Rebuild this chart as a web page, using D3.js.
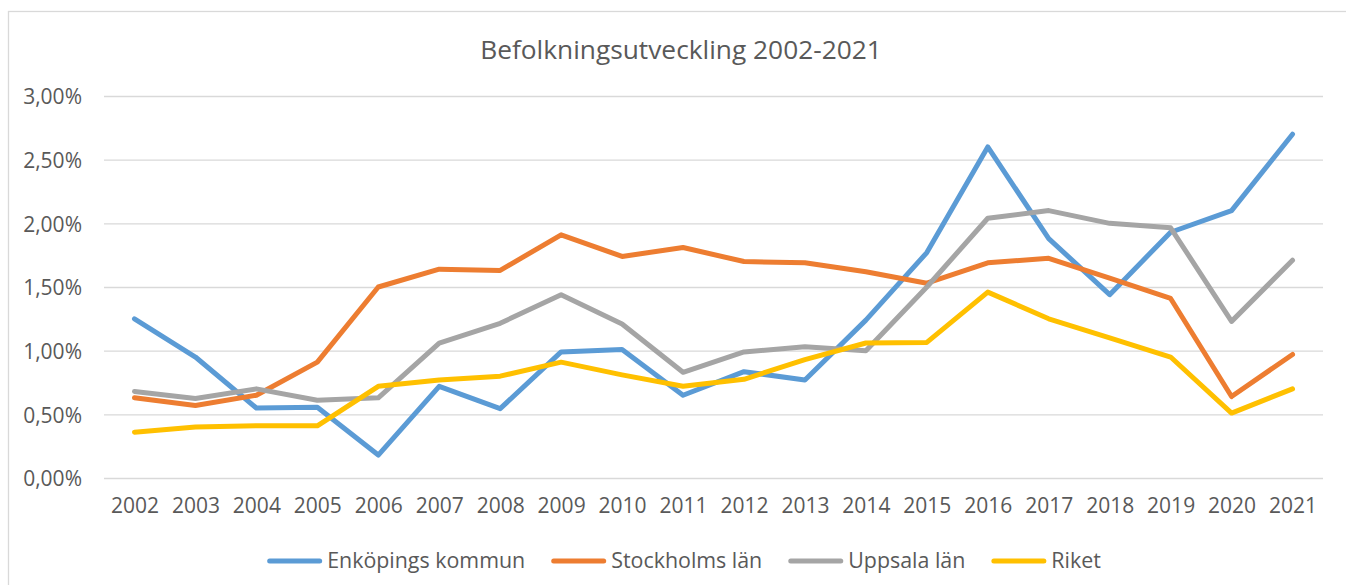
<!DOCTYPE html>
<html>
<head>
<meta charset="utf-8">
<script src="https://cdn.jsdelivr.net/npm/d3@7"></script>
<style>
  html, body { margin: 0; padding: 0; background: #fff; }
  svg { display: block; font-family: "Open Sans", "Noto Sans", sans-serif; }
</style>
</head>
<body>
<svg id="chart" width="1346" height="585"></svg>
<script>
const title = "Befolkningsutveckling 2002-2021";
const years = ["2002","2003","2004","2005","2006","2007","2008","2009","2010","2011","2012","2013","2014","2015","2016","2017","2018","2019","2020","2021"];
const yTicks = [0, 0.005, 0.01, 0.015, 0.02, 0.025, 0.03];
const seriesNames = ["Enköpings kommun", "Stockholms län", "Uppsala län", "Riket"];
const enkoping  = [1.25, 0.95, 0.55, 0.555, 0.18, 0.72, 0.545, 0.99, 1.01, 0.65, 0.835, 0.77, 1.24, 1.77, 2.60, 1.88, 1.44, 1.93, 2.10, 2.70];
const stockholm = [0.63, 0.57, 0.65, 0.91, 1.50, 1.64, 1.63, 1.91, 1.74, 1.81, 1.70, 1.69, 1.62, 1.53, 1.69, 1.725, 1.57, 1.41, 0.64, 0.97];
const uppsala   = [0.68, 0.625, 0.70, 0.61, 0.63, 1.06, 1.215, 1.44, 1.21, 0.83, 0.99, 1.03, 1.00, 1.50, 2.04, 2.10, 2.00, 1.965, 1.23, 1.71];
const riket     = [0.36, 0.40, 0.41, 0.41, 0.72, 0.77, 0.80, 0.91, 0.81, 0.72, 0.775, 0.93, 1.06, 1.065, 1.46, 1.25, 1.10, 0.95, 0.51, 0.70];
const colors = ["#5b9bd5", "#ed7d31", "#a5a5a5", "#ffc000"];

const seriesValues = [enkoping, stockholm, uppsala, riket];
const svg = d3.select("#chart");
const textColor = "#595959";
const plot = { left: 104, right: 1323, top: 96, bottom: 478 };

// outer chart border
svg.append("rect")
  .attr("x", 8.5).attr("y", 11.5)
  .attr("width", 1342).attr("height", 600)
  .attr("fill", "#fff").attr("stroke", "#d9d9d9").attr("stroke-width", 1.3);

const x = d3.scalePoint().domain(years).range([plot.left, plot.right]).padding(0.5);
const y = d3.scaleLinear().domain([0, 0.03]).range([plot.bottom, plot.top]);

const locale = d3.formatLocale({ decimal: ",", thousands: " ", grouping: [3], currency: ["", " kr"] });
const pct = locale.format(".2%");

// title
svg.append("text")
  .attr("x", 681).attr("y", 59)
  .attr("text-anchor", "middle")
  .attr("fill", textColor)
  .attr("font-size", 26.3)
  .text(title);

// y axis with gridlines
const yAxis = d3.axisLeft(y)
  .tickValues(yTicks)
  .tickSize(-(plot.right - plot.left))
  .tickPadding(22)
  .tickFormat(pct);

const gy = svg.append("g")
  .attr("transform", `translate(${plot.left},0)`)
  .call(yAxis);
gy.select(".domain").remove();
gy.selectAll(".tick line").attr("stroke", "#d9d9d9").attr("stroke-width", 1.4);
gy.selectAll(".tick text")
  .attr("fill", textColor)
  .attr("font-size", 21)
  .attr("font-family", "Open Sans, Noto Sans, sans-serif")
  .attr("dy", "0.38em");

// x axis labels
const xAxis = d3.axisBottom(x).tickSize(0).tickPadding(20);
const gx = svg.append("g")
  .attr("transform", `translate(0,${plot.bottom})`)
  .call(xAxis);
gx.select(".domain").remove();
gx.selectAll(".tick text")
  .attr("fill", textColor)
  .attr("font-size", 21)
  .attr("font-family", "Open Sans, Noto Sans, sans-serif");

// lines
const line = d3.line()
  .x((d, i) => x(years[i]))
  .y(d => y(d / 100));

seriesValues.forEach((vals, si) => {
  svg.append("path")
    .datum(vals)
    .attr("d", line)
    .attr("fill", "none")
    .attr("stroke", colors[si])
    .attr("stroke-width", 5)
    .attr("stroke-linejoin", "round")
    .attr("stroke-linecap", "round");
});

// legend
const legend = svg.append("g");
const lineLen = 55, lineGap = 5, itemGap = 26, legendY = 561;
let cursor = 0;
seriesNames.forEach((name, i) => {
  const g = legend.append("g").attr("transform", `translate(${cursor},0)`);
  g.append("line")
    .attr("x1", 2.5).attr("x2", lineLen - 2.5)
    .attr("y1", legendY).attr("y2", legendY)
    .attr("stroke", colors[i]).attr("stroke-width", 5)
    .attr("stroke-linecap", "round");
  const t = g.append("text")
    .attr("x", lineLen + lineGap).attr("y", legendY + 7)
    .attr("fill", textColor)
    .attr("font-size", 21.4)
    .text(name);
  cursor += lineLen + lineGap + t.node().getComputedTextLength() + itemGap;
});
const legendWidth = cursor - itemGap;
legend.attr("transform", `translate(${684 - legendWidth / 2},0)`);
</script>
</body>
</html>
